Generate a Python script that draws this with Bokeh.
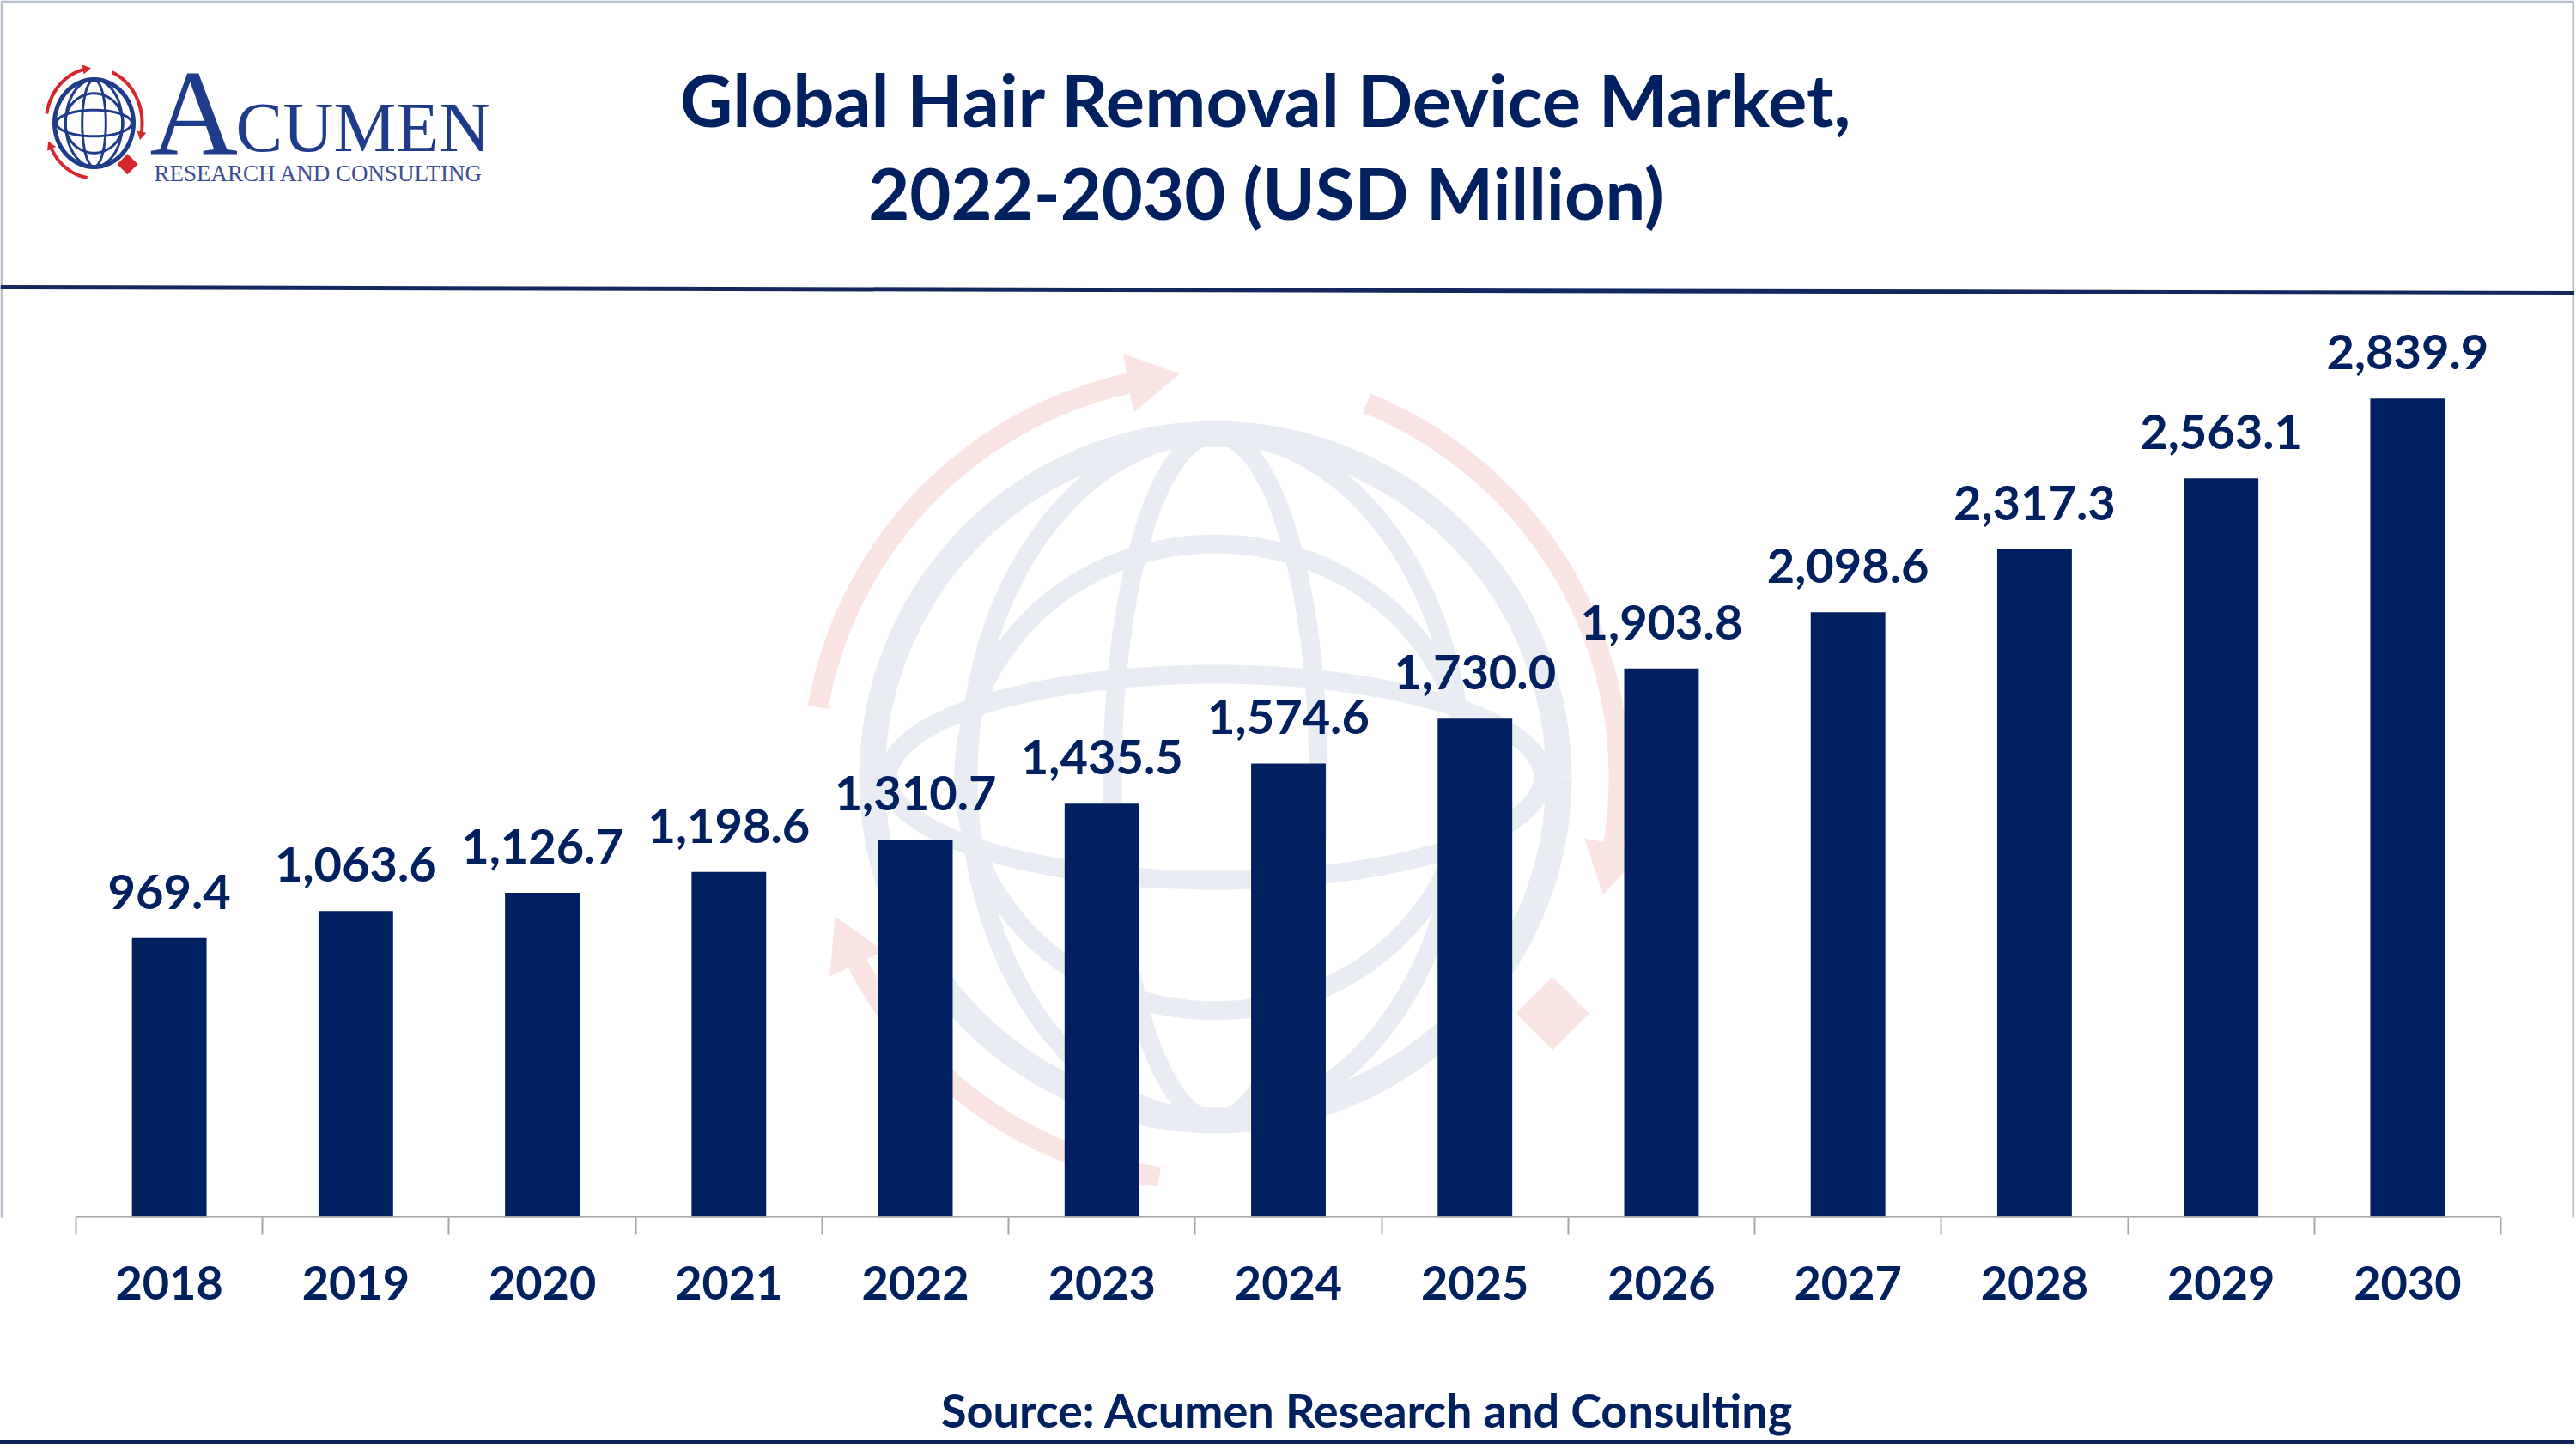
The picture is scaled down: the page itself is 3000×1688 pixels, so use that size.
import math
from bokeh.plotting import figure
from bokeh.models import Range1d, FixedTicker, Label, BoxAnnotation
from bokeh.core.properties import value
from bokeh.embed import file_html
from bokeh.resources import INLINE

# ---------------- data ----------------
years = ["2018", "2019", "2020", "2021", "2022", "2023", "2024",
         "2025", "2026", "2027", "2028", "2029", "2030"]
market_usd_mn = [969.4, 1063.6, 1126.7, 1198.6, 1310.7, 1435.5, 1574.6,
                 1730.0, 1903.8, 2098.6, 2317.3, 2563.1, 2839.9]
value_labels = [f"{v:,.1f}" for v in market_usd_mn]
title_lines = ["Global Hair Removal Device Market,", "2022-2030 (USD Million)"]
source_text = "Source: Acumen Research and Consulting"
logo_word_first = "A"
logo_word_rest = "CUMEN"
logo_tagline = "RESEARCH AND CONSULTING"

# ---------------- layout constants ----------------
W, H = 2998, 1682          # canvas size (+4px css bottom border)
AXIS_Y = 1418              # canvas px of the value axis zero
LEFT_PX, RIGHT_PX = 88, 2912
N = len(years)
PX_CAT = (RIGHT_PX - LEFT_PX) / N
PX_PER_UNIT = 0.336

NAVY = "#002060"
LOGO_BLUE = "#1f3c8a"
LOGO_RED = "#d7262e"
WM_GRAY = "#e9ecf2"
WM_PINK = "#fae4e4"


def dx(cx):
    return -0.5 + (cx - LEFT_PX) / PX_CAT


def dy(cy):
    return (AXIS_Y - cy) / PX_PER_UNIT


p = figure(width=W, height=H,
           x_range=Range1d(dx(0), dx(W)), y_range=Range1d(dy(AXIS_Y), dy(0)),
           output_backend="svg", toolbar_location=None, y_axis_location=None,
           min_border_left=0, min_border_right=0, min_border_top=0,
           min_border_bottom=H - AXIS_Y,
           background_fill_color="white", border_fill_color="white",
           outline_line_color=None)
p.grid.visible = False
p.styles = {"border-bottom": "4px solid #0d2454"}


def ell(cx, cy, rx, ry, a0, a1, steps=90):
    xs, ys = [], []
    for k in range(steps + 1):
        a = math.radians(a0 + (a1 - a0) * k / steps)
        xs.append(dx(cx + rx * math.cos(a)))
        ys.append(dy(cy - ry * math.sin(a)))
    return xs, ys


def globe(cx, cy, rx, ry, color, lw_outer, lw_inner, alpha=1.0):
    xs, ys = [], []
    for frac in (0.3, 0.72):
        a, b = ell(cx, cy, rx * frac, ry, 0, 360)
        xs.append(a); ys.append(b)
    for frac in (0.3, 0.68):
        a, b = ell(cx, cy, rx * math.sqrt(1 - frac ** 2), ry * frac, 0, 360)
        xs.append(a); ys.append(b)
    p.multi_line(xs=xs, ys=ys, line_color=color, line_width=lw_inner, line_alpha=alpha)
    a, b = ell(cx, cy, rx, ry, 0, 360)
    p.line(a, b, line_color=color, line_width=lw_outer, line_alpha=alpha)


def arrows(cx, cy, rx, ry, color, lw, head, dia, dia_ang, alpha=1.0):
    arcs = [(170, 100), (68, -12), (262, 205)]
    xs, ys = [], []
    hx, hy, ha = [], [], []
    for a0, a1 in arcs:
        a, b = ell(cx, cy, rx, ry, a0, a1)
        xs.append(a); ys.append(b)
        t = math.radians(a1)
        hx.append(dx(cx + rx * math.cos(t)))
        hy.append(dy(cy - ry * math.sin(t)))
        dirx, diry = math.sin(t), -math.cos(t)
        ha.append(math.atan2(diry, dirx) - math.pi / 2)
    p.multi_line(xs=xs, ys=ys, line_color=color, line_width=lw, line_alpha=alpha)
    p.scatter(x=hx, y=hy, angle=ha, marker="triangle", size=head,
              fill_color=color, line_color=None, fill_alpha=alpha)
    t = math.radians(dia_ang)
    p.scatter(x=[dx(cx + rx * 1.02 * math.cos(t))], y=[dy(cy - ry * 1.02 * math.sin(t))],
              marker="square", angle=math.pi / 4, size=dia,
              fill_color=color, line_color=None, fill_alpha=alpha)


# ---------------- watermark ----------------
arrows(1415, 905, 470, 470, WM_PINK, 24, 70, 60, -35)
globe(1415, 905, 400, 400, WM_GRAY, 30, 22)

# ---------------- header ----------------
p.line(x=[dx(0), dx(W)], y=[dy(334), dy(341)], line_color="#13295e", line_width=5)

for txt, mid, fs in zip(title_lines, (114, 223), ("85px", "83px")):
    p.add_layout(Label(x=dx(1474), y=dy(mid), text=txt, text_align="center",
                       text_baseline="alphabetic", text_font="Lato",
                       text_font_style="bold", text_font_size=fs,
                       text_color=NAVY))

# logo
arrows(109, 143, 56, 64, LOGO_RED, 4, 11, 17, -47)
globe(109, 143, 46, 51, LOGO_BLUE, 5, 3)
p.add_layout(Label(x=dx(174), y=dy(130), text=logo_word_first, text_align="left",
                   text_baseline="alphabetic", text_font="Liberation Serif",
                   text_font_size="142px", text_color=LOGO_BLUE))
p.add_layout(Label(x=dx(274), y=dy(148), text=logo_word_rest, text_align="left",
                   text_baseline="alphabetic", text_font="Liberation Serif",
                   text_font_size="82px", text_color=LOGO_BLUE))
p.add_layout(Label(x=dx(179), y=dy(201), text=logo_tagline, text_align="left",
                   text_baseline="alphabetic", text_font="Liberation Serif",
                   text_font_size="27px", text_color="#3d4f92"))

# ---------------- bars ----------------
xs = list(range(N))
p.vbar(x=xs, top=market_usd_mn, bottom=0, width=0.40, fill_color=NAVY, line_color=None)
p.text(x=xs, y=market_usd_mn, text=value_labels, y_offset=-54,
       text_align="center", text_baseline="alphabetic",
       text_font=value("Lato"), text_font_style="bold", text_font_size="56px",
       text_color=NAVY)

# axis baseline
p.segment(x0=[-0.5], x1=[N - 0.5], y0=[0], y1=[0], line_color="#a6a6a6", line_width=4)

ax = p.xaxis[0]
ax.ticker = FixedTicker(ticks=xs, minor_ticks=[i - 0.5 for i in range(N + 1)])
ax.major_label_overrides = {i: y for i, y in enumerate(years)}
ax.axis_line_color = None
ax.major_tick_line_color = None
ax.major_tick_in = 0
ax.major_tick_out = 0
ax.minor_tick_line_color = "#a6a6a6"
ax.minor_tick_line_width = 2
ax.minor_tick_in = 0
ax.minor_tick_out = 20
ax.major_label_standoff = 36
ax.major_label_text_font = "Lato"
ax.major_label_text_font_style = "bold"
ax.major_label_text_font_size = "54px"
ax.major_label_text_color = NAVY

# source (placed in the panel below the axis, so it is not clipped by the frame)
p.add_layout(Label(x=dx(1592), y=dy(1642), text=source_text, text_align="center",
                   text_baseline="alphabetic", text_font="Lato",
                   text_font_style="bold", text_font_size="54px",
                   text_color=NAVY), "below")

# frame border
p.add_layout(BoxAnnotation(left=dx(1.5), right=dx(W - 1.5), top=dy(1.5), bottom=dy(H - 2),
                           fill_color=None, line_color="#0d2454", line_width=3))

open("out.html", "w").write(file_html(p, INLINE))
